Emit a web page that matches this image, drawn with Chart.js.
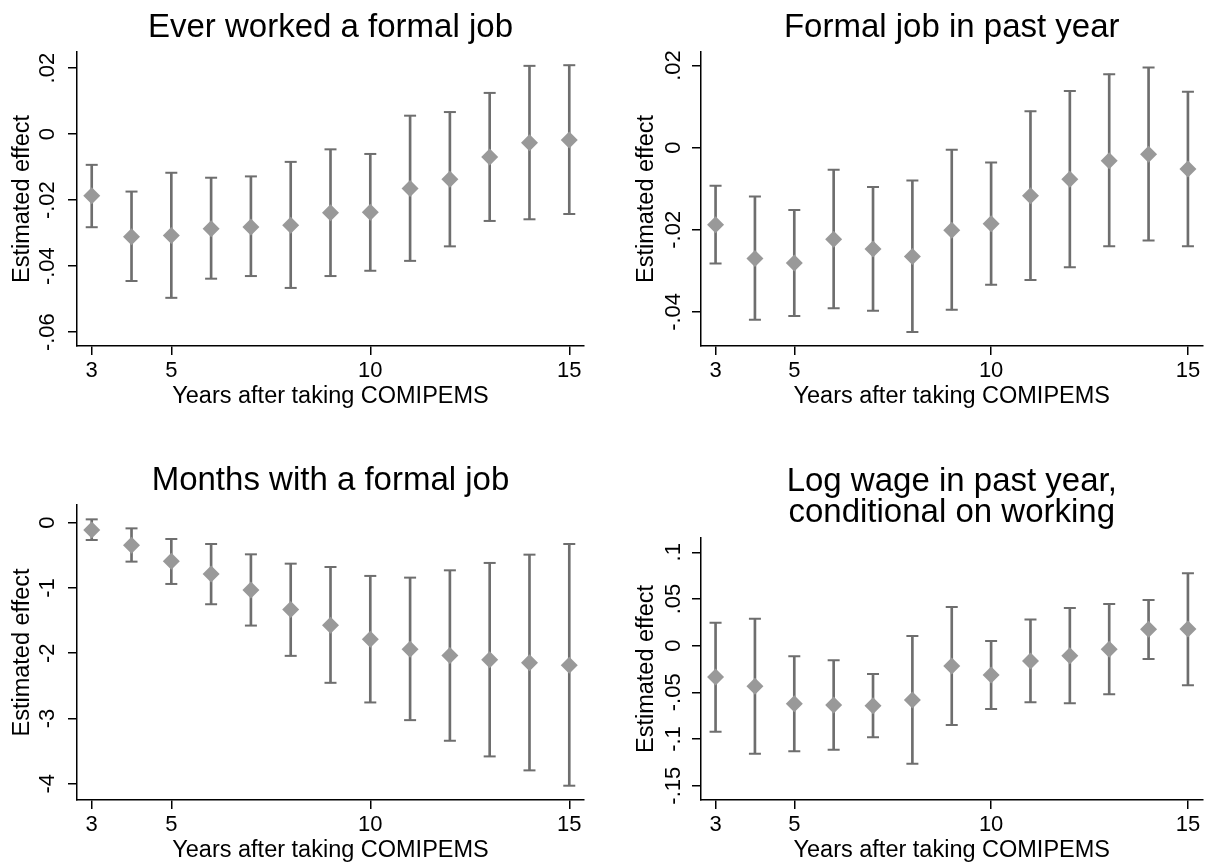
<!DOCTYPE html>
<html><head><meta charset="utf-8">
<script src="https://cdn.jsdelivr.net/npm/chart.js@4.4.1/dist/chart.umd.min.js"></script>
<style>
html,body{margin:0;padding:0;background:#fff;width:1211px;height:863px;overflow:hidden;}
canvas{position:absolute;display:block;}
</style></head><body>
<canvas id="c1" style="left:0px;top:0px;width:605px;height:430px" width="605" height="430"></canvas>
<canvas id="c2" style="left:605px;top:0px;width:606px;height:430px" width="606" height="430"></canvas>
<canvas id="c3" style="left:0px;top:433px;width:605px;height:430px" width="605" height="430"></canvas>
<canvas id="c4" style="left:605px;top:433px;width:606px;height:430px" width="606" height="430"></canvas>
<script>
// ---------- data ----------
const YEARS = [3, 4, 5, 6, 7, 8, 9, 10, 11, 12, 13, 14, 15];
const X_TICKS = [3, 5, 10, 15];

// Ever worked a formal job
const P1_EST = [-0.0187, -0.0311, -0.0307, -0.0287, -0.0281, -0.0276, -0.0238, -0.0237, -0.0165, -0.0137, -0.0069, -0.0026, -0.0018];
const P1_HI  = [-0.0093, -0.0174, -0.0117, -0.0132, -0.0128, -0.0084, -0.0046, -0.0060, 0.0056, 0.0067, 0.0125, 0.0207, 0.0209];
const P1_LO  = [-0.0282, -0.0445, -0.0496, -0.0438, -0.0430, -0.0466, -0.0430, -0.0414, -0.0384, -0.0340, -0.0263, -0.0258, -0.0242];
const P1_Y_TICKS = [0.02, 0, -0.02, -0.04, -0.06];
const P1_Y_LABELS = ['.02', '0', '-.02', '-.04', '-.06'];

// Formal job in past year
const P2_EST = [-0.0188, -0.0270, -0.0281, -0.0223, -0.0247, -0.0265, -0.0201, -0.0185, -0.0117, -0.0077, -0.0032, -0.0016, -0.0052];
const P2_HI  = [-0.0093, -0.0119, -0.0152, -0.0054, -0.0096, -0.0080, -0.0005, -0.0036, 0.0089, 0.0138, 0.0179, 0.0195, 0.0136];
const P2_LO  = [-0.0282, -0.0419, -0.0410, -0.0391, -0.0397, -0.0449, -0.0395, -0.0334, -0.0322, -0.0291, -0.0240, -0.0226, -0.0240];
const P2_Y_TICKS = [0.02, 0, -0.02, -0.04];
const P2_Y_LABELS = ['.02', '0', '-.02', '-.04'];

// Months with a formal job
const P3_EST = [-0.112, -0.347, -0.592, -0.786, -1.031, -1.332, -1.571, -1.786, -1.939, -2.036, -2.102, -2.148, -2.184];
const P3_HI  = [0.051, -0.087, -0.250, -0.327, -0.485, -0.628, -0.679, -0.816, -0.842, -0.730, -0.617, -0.490, -0.327];
const P3_LO  = [-0.265, -0.597, -0.939, -1.250, -1.577, -2.041, -2.454, -2.755, -3.026, -3.342, -3.582, -3.796, -4.031];
const P3_Y_TICKS = [0, -1, -2, -3, -4];
const P3_Y_LABELS = ['0', '-1', '-2', '-3', '-4'];

// Log wage in past year, conditional on working
const P4_EST = [-0.0336, -0.0436, -0.0621, -0.0636, -0.0643, -0.0582, -0.0218, -0.0314, -0.0164, -0.0107, -0.0039, 0.0175, 0.0179];
const P4_HI  = [0.0246, 0.0289, -0.0114, -0.0157, -0.0304, 0.0104, 0.0414, 0.0050, 0.0279, 0.0404, 0.0446, 0.0489, 0.0775];
const P4_LO  = [-0.0921, -0.1157, -0.1132, -0.1114, -0.0982, -0.1264, -0.0850, -0.0679, -0.0607, -0.0618, -0.0521, -0.0143, -0.0425];
const P4_Y_TICKS = [0.1, 0.05, 0, -0.05, -0.1, -0.15];
const P4_Y_LABELS = ['.1', '.05', '0', '-.05', '-.1', '-.15'];

const X_TITLE = 'Years after taking COMIPEMS';
const Y_TITLE = 'Estimated effect';

// ---------- styling ----------
const FONT = '"Liberation Sans", Arial, Helvetica, sans-serif';
const MARKER_COLOR = '#999999';
const BAR_COLOR = '#6e6e6e';
const AXIS_COLOR = '#000000';

const panelText = {
  id: 'panelText',
  afterDraw(chart, args, o) {
    const {ctx, chartArea} = chart;
    const ys = chart.scales.y;
    ctx.save();
    ctx.fillStyle = '#000';
    ctx.textAlign = 'center';
    ctx.textBaseline = 'alphabetic';
    ctx.font = '22px ' + FONT;
    ys.ticks.forEach((t, i) => {
      const py = ys.getPixelForValue(t.value);
      ctx.save();
      ctx.translate(chartArea.left - o.labelGap, py);
      ctx.rotate(-Math.PI / 2);
      ctx.fillText(o.yLabels[i], 0, 0);
      ctx.restore();
    });
    ctx.font = '33px ' + FONT;
    const cx = (chartArea.left + chartArea.right) / 2 + o.titleDx;
    o.title.forEach((line, i) => ctx.fillText(line, cx, o.titleBaseline + i * 31));
    ctx.restore();
  }
};

function pts(ys) { return YEARS.map((x, i) => ({x: x, y: ys[i]})); }
function bars(lo, hi) { return YEARS.map((x, i) => ({x: x, y: [lo[i], hi[i]]})); }

function makePanel(id, cfg) {
  const el = document.getElementById(id);
  return new Chart(el, {
    type: 'scatter',
    data: {
      datasets: [
        {type: 'scatter', data: pts(cfg.est), pointStyle: 'rectRot', pointRadius: 8.5,
         backgroundColor: MARKER_COLOR, borderWidth: 0, order: 0},
        {type: 'scatter', data: pts(cfg.hi), pointStyle: 'line', pointRadius: 6,
         borderColor: BAR_COLOR, borderWidth: 2, order: 1},
        {type: 'scatter', data: pts(cfg.lo), pointStyle: 'line', pointRadius: 6,
         borderColor: BAR_COLOR, borderWidth: 2, order: 1},
        {type: 'bar', data: bars(cfg.lo, cfg.hi), barThickness: 2, backgroundColor: BAR_COLOR,
         borderWidth: 0, grouped: false, order: 2}
      ]
    },
    options: {
      responsive: false,
      animation: false,
      events: [],
      layout: {padding: {left: 0, top: cfg.top, right: cfg.right, bottom: 0}},
      plugins: {
        legend: {display: false},
        tooltip: {enabled: false},
        panelText: {yLabels: cfg.yLabels, title: cfg.title, titleBaseline: cfg.titleBaseline,
                    titleDx: cfg.titleDx, labelGap: cfg.labelGap}
      },
      scales: {
        x: {
          type: 'linear', offset: false, min: 2.63, max: 15.37,
          afterBuildTicks: s => { s.ticks = X_TICKS.map(v => ({value: v})); },
          afterFit: s => { s.height = cfg.xHeight; },
          grid: {display: true, drawOnChartArea: false, drawTicks: true, tickLength: 9,
                 color: AXIS_COLOR, lineWidth: 1.5, offset: false},
          border: {display: true, color: AXIS_COLOR, width: 1.5},
          ticks: {color: '#000', font: {family: FONT, size: 22}, padding: 3,
                  maxRotation: 0, minRotation: 0, callback: v => String(v)},
          title: {display: true, text: X_TITLE, color: '#000',
                  font: {family: FONT, size: 23.5, lineHeight: 1},
                  padding: {top: 0, bottom: cfg.xTitlePad}}
        },
        y: {
          type: 'linear', min: cfg.ymin, max: cfg.ymax, beginAtZero: false,
          afterBuildTicks: s => { s.ticks = cfg.yTicks.map(v => ({value: v})); },
          afterFit: s => { s.width = cfg.yWidth; },
          grid: {display: true, drawOnChartArea: false, drawTicks: true, tickLength: 9,
                 color: AXIS_COLOR, lineWidth: 1.5},
          border: {display: true, color: AXIS_COLOR, width: 1.5},
          ticks: {display: false, callback: (v, i) => cfg.yLabels[i]},
          title: {display: true, text: Y_TITLE, color: '#000',
                  font: {family: FONT, size: 23.5, lineHeight: 1},
                  padding: {top: cfg.yTitlePad, bottom: 0}}
        }
      }
    },
    plugins: [panelText]
  });
}

makePanel('c1', {est: P1_EST, lo: P1_LO, hi: P1_HI, yTicks: P1_Y_TICKS, yLabels: P1_Y_LABELS,
  ymin: -0.0642, ymax: 0.0249, title: ['Ever worked a formal job'], titleBaseline: 37, titleDx: 0,
  top: 52, right: 21, yWidth: 77, xHeight: 84, xTitlePad: 22, yTitlePad: 11, labelGap: 23});
makePanel('c2', {est: P2_EST, lo: P2_LO, hi: P2_HI, yTicks: P2_Y_TICKS, yLabels: P2_Y_LABELS,
  ymin: -0.0483, ymax: 0.0233, title: ['Formal job in past year'], titleBaseline: 37, titleDx: 0,
  top: 52, right: 3, yWidth: 96, xHeight: 84, xTitlePad: 22, yTitlePad: 30, labelGap: 21});
makePanel('c3', {est: P3_EST, lo: P3_LO, hi: P3_HI, yTicks: P3_Y_TICKS, yLabels: P3_Y_LABELS,
  ymin: -4.25, ymax: 0.271, title: ['Months with a formal job'], titleBaseline: 57, titleDx: 0,
  top: 72, right: 21, yWidth: 77, xHeight: 63, xTitlePad: 1, yTitlePad: 11, labelGap: 23});
makePanel('c4', {est: P4_EST, lo: P4_LO, hi: P4_HI, yTicks: P4_Y_TICKS, yLabels: P4_Y_LABELS,
  ymin: -0.1653, ymax: 0.1153, title: ['Log wage in past year,', 'conditional on working'], titleBaseline: 58, titleDx: 0,
  top: 105, right: 3, yWidth: 96, xHeight: 63, xTitlePad: 1, yTitlePad: 30, labelGap: 21});
</script>
</body></html>
